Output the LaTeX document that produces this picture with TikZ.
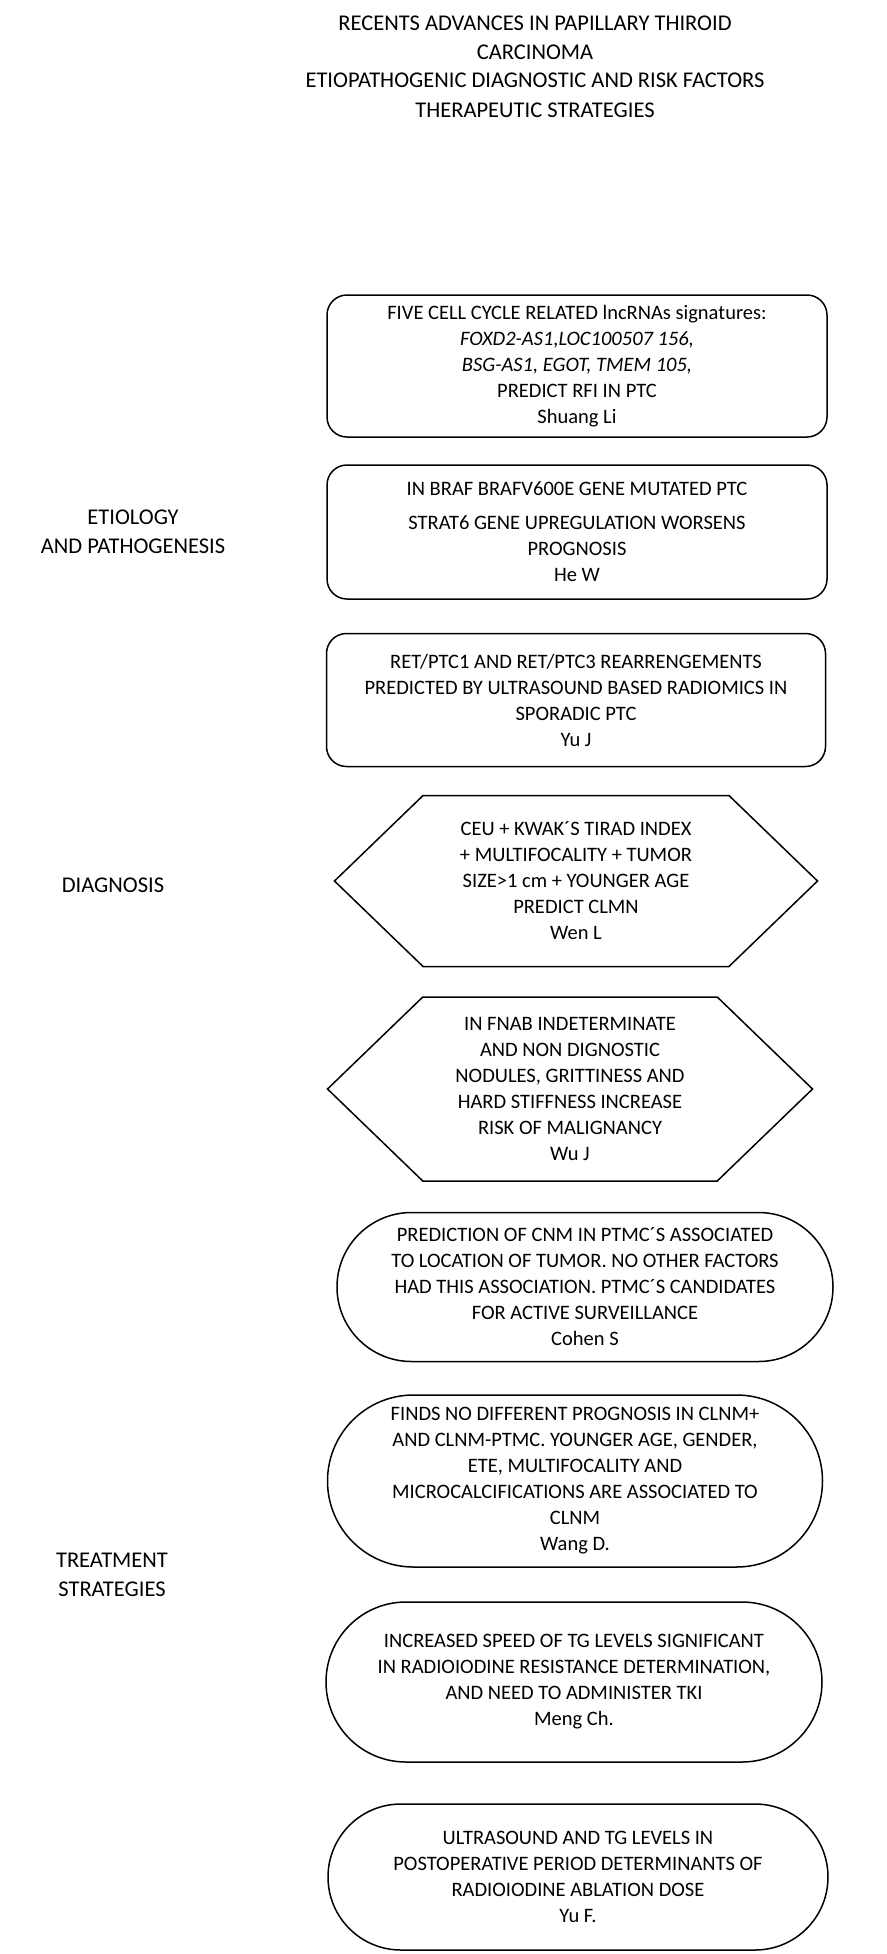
\documentclass[tikz,border=0pt]{standalone}
\usepackage{fontspec}
\setmainfont{Carlito}
\usetikzlibrary{shapes.symbols,shapes.misc}

\newcommand{\boxsize}{\fontsize{20.5}{26}\selectfont}
\newcommand{\headsize}{\fontsize{22.5}{28.5}\selectfont}

\begin{document}
\begin{tikzpicture}[x=1pt,y=-1pt,
        box/.style={draw, line width=1.5pt, rounded corners=20pt, align=center, font=\boxsize, inner sep=0pt},
        hexbox/.style={draw, line width=1.5pt, signal, signal to=east and west, signal pointer angle=88, align=center, font=\boxsize, inner sep=0pt},
        pillbox/.style={draw, line width=1.5pt, rounded rectangle, align=center, font=\boxsize, inner sep=0pt},
        head/.style={align=center, font=\headsize, inner sep=0pt}]
        \useasboundingbox[fill=white] (0,0) rectangle (886,1954);

        % Title
        \node[head] (title) at (535,67) {RECENTS ADVANCES IN PAPILLARY THIROID\\CARCINOMA\\ETIOPATHOGENIC DIAGNOSTIC AND RISK FACTORS\\[1pt]THERAPEUTIC STRATEGIES};

        % Section labels on the left
        \node[head] (etiology) at (133,532) {ETIOLOGY\\AND PATHOGENESIS};
        \node[head] (diagnosis) at (113,885) {DIAGNOSIS};
        \node[head] (treatment) at (112,1575) {TREATMENT\\STRATEGIES};

        % Rounded boxes
        \node[box, minimum width=500pt, minimum height=142pt] (lncrna) at (577,366) {FIVE CELL CYCLE RELATED lncRNAs signatures:\\\textit{FOXD2-AS1,LOC100507 156,}\\\textit{BSG-AS1, EGOT, TMEM 105,}\\PREDICT RFI IN PTC\\Shuang Li};
        \node[box, minimum width=500pt, minimum height=134pt] (braf) at (577,532) {IN BRAF BRAFV600E GENE MUTATED PTC\\[8pt]STRAT6 GENE UPREGULATION WORSENS\\PROGNOSIS\\He W};
        \node[box, minimum width=499pt, minimum height=133pt] (retptc) at (576,700) {RET/PTC1 AND RET/PTC3 REARRENGEMENTS\\PREDICTED BY ULTRASOUND BASED RADIOMICS IN\\SPORADIC PTC\\Yu J};

        % Hexagons
        \node[hexbox, minimum width=483pt, minimum height=171pt] (clmn) at (576,881) {CEU + KWAK´S TIRAD INDEX\\+ MULTIFOCALITY + TUMOR\\SIZE>1 cm + YOUNGER AGE\\PREDICT CLMN\\Wen L};
        \node[hexbox, minimum width=485pt, minimum height=184pt] (fnab) at (570,1089) {IN FNAB INDETERMINATE\\AND NON DIGNOSTIC\\NODULES, GRITTINESS AND\\HARD STIFFNESS INCREASE\\RISK OF MALIGNANCY\\Wu J};

        % Terminator shapes
        \node[pillbox, minimum width=496pt, minimum height=149pt] (cnm) at (585,1287) {PREDICTION OF CNM IN PTMC´S ASSOCIATED\\TO LOCATION OF TUMOR. NO OTHER FACTORS\\HAD THIS ASSOCIATION. PTMC´S CANDIDATES\\FOR ACTIVE SURVEILLANCE\\Cohen S};
        \node[pillbox, minimum width=495pt, minimum height=172pt] (clnm) at (575,1481) {FINDS NO DIFFERENT PROGNOSIS IN CLNM+\\AND CLNM-PTMC. YOUNGER AGE, GENDER,\\ETE, MULTIFOCALITY AND\\MICROCALCIFICATIONS ARE ASSOCIATED TO\\CLNM\\Wang D.};
        \node[pillbox, minimum width=496pt, minimum height=160pt] (tgspeed) at (574,1682) {INCREASED SPEED OF TG LEVELS SIGNIFICANT\\IN RADIOIODINE RESISTANCE DETERMINATION,\\AND NEED TO ADMINISTER TKI\\Meng Ch.};
        \node[pillbox, minimum width=500pt, minimum height=146pt] (ablation) at (578,1877) {ULTRASOUND AND TG LEVELS IN\\POSTOPERATIVE PERIOD DETERMINANTS OF\\RADIOIODINE ABLATION DOSE\\Yu F.};

\end{tikzpicture}
\end{document}
